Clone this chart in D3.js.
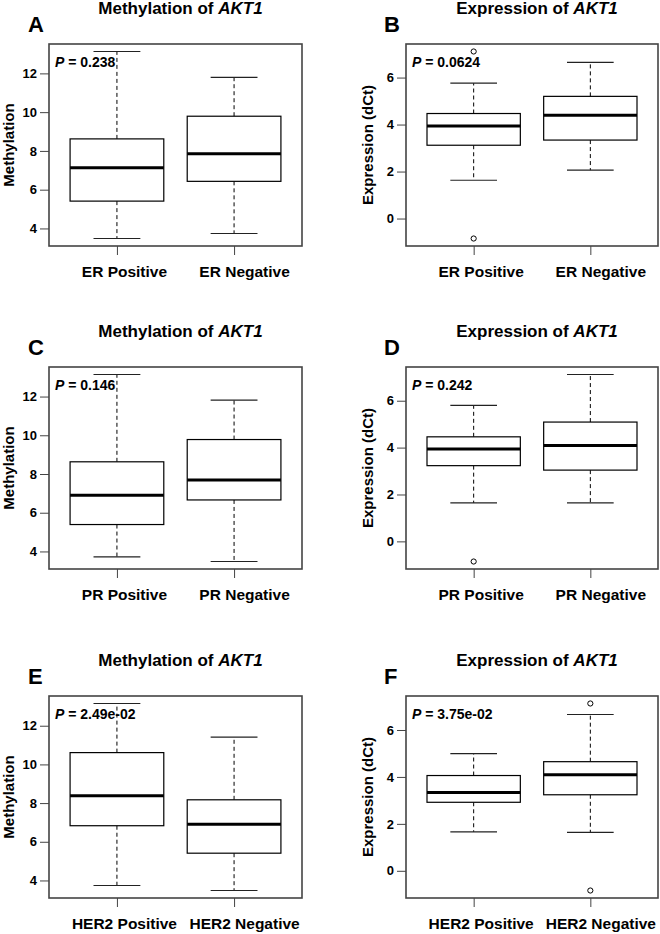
<!DOCTYPE html>
<html><head><meta charset="utf-8">
<script src="https://cdn.jsdelivr.net/npm/d3@7"></script>
<style>body{margin:0;background:#fff}svg{display:block}text{font-family:"Liberation Sans",Arial,sans-serif;font-weight:bold;fill:#000}</style>
</head><body>
<script>
// ---- data ----
const panelLetters = ["A","B","C","D","E","F"];
const titlePrefixes = ["Methylation of ","Expression of ","Methylation of ","Expression of ","Methylation of ","Expression of "];
const titleGene = "AKT1";
const yLabels = ["Methylation","Expression (dCt)","Methylation","Expression (dCt)","Methylation","Expression (dCt)"];
const categoriesER = ["ER Positive","ER Negative"];
const categoriesPR = ["PR Positive","PR Negative"];
const categoriesHER2 = ["HER2 Positive","HER2 Negative"];
const pValues = ["0.238","0.0624","0.146","0.242","2.49e-02","3.75e-02"];
const methylTicks = [4,6,8,10,12];
const exprTicks = [0,2,4,6];
// box stats per group: [lower whisker, Q1, median, Q3, upper whisker]
const statsA = [[3.48,5.41,7.13,8.62,13.13],[3.74,6.43,7.86,9.79,11.79]];
const statsB = [[1.63,3.12,3.94,4.47,5.76],[2.06,3.34,4.40,5.20,6.65]];
const statsC = [[3.72,5.39,6.90,8.63,13.14],[3.48,6.66,7.69,9.78,11.82]];
const statsD = [[1.64,3.23,3.94,4.46,5.80],[1.64,3.04,4.09,5.09,7.12]];
const statsE = [[3.74,6.83,8.38,10.61,13.15],[3.48,5.41,6.90,8.17,11.41]];
const statsF = [[1.66,2.92,3.34,4.06,4.99],[1.64,3.24,4.09,4.65,6.66]];
const outliersA = [[],[]];
const outliersB = [[7.11,-0.85],[]];
const outliersC = [[],[]];
const outliersD = [[-0.86],[]];
const outliersE = [[],[]];
const outliersF = [[],[7.13,-0.84]];

const panels = [
  {stats:statsA, out:outliersA, cats:categoriesER, ticks:methylTicks},
  {stats:statsB, out:outliersB, cats:categoriesER, ticks:exprTicks},
  {stats:statsC, out:outliersC, cats:categoriesPR, ticks:methylTicks},
  {stats:statsD, out:outliersD, cats:categoriesPR, ticks:exprTicks},
  {stats:statsE, out:outliersE, cats:categoriesHER2, ticks:methylTicks},
  {stats:statsF, out:outliersF, cats:categoriesHER2, ticks:exprTicks}
];

// ---- layout ----
const W = 660, H = 934;
const colLeft = [49, 406], colWidth = [253, 252];
const rowTop = [44, 367, 696], boxH = 202;
const yLabOffset = [35, 33];
const catShift = [7, 10];

const svg = d3.select("body").append("svg").attr("width", W).attr("height", H);

panels.forEach((p, i) => {
  const col = i % 2, row = Math.floor(i / 2);
  const L = colLeft[col], T = rowTop[row], w = colWidth[col], h = boxH;
  const g = svg.append("g").attr("transform", `translate(${L},${T})`);

  const vals = p.stats.flat().concat(p.out.flat());
  const lo = d3.min(vals), hi = d3.max(vals), pad = (hi - lo) * 0.04;
  const y = d3.scaleLinear().domain([lo - pad, hi + pad]).range([h, 0]);
  const x = d3.scaleLinear().domain([0.42, 2.58]).range([0, w]);
  const bw = x(1.4) - x(0.6);

  // title
  const t = svg.append("text").attr("x", L + w / 2 + 5).attr("y", T - 30.5)
    .attr("text-anchor", "middle").style("font-size", "17px");
  t.append("tspan").text(titlePrefixes[i]);
  t.append("tspan").style("font-style", "italic").text(titleGene);

  // panel letter
  svg.append("text").attr("x", col === 0 ? 28 : 384).attr("y", T - 12.5)
    .style("font-size", "22px").text(panelLetters[i]);

  // y axis
  const ya = g.append("g").call(d3.axisLeft(y).tickValues(p.ticks).tickSize(9).tickPadding(3).tickFormat(d3.format("d")));
  ya.select(".domain").remove();
  ya.selectAll("line").attr("stroke", "#444");
  ya.selectAll("text").style("font-size", "13px").style("font-family", '"Liberation Sans",Arial,sans-serif').attr("fill", "#000");

  // x axis ticks
  const xa = g.append("g").attr("transform", `translate(0,${h})`)
    .call(d3.axisBottom(x).tickValues([1, 2]).tickSize(9).tickPadding(10.5).tickFormat((d) => p.cats[d - 1]));
  xa.select(".domain").remove();
  xa.selectAll("line").attr("stroke", "#444");
  xa.selectAll("text").style("font-size", "15.5px").style("font-family", '"Liberation Sans",Arial,sans-serif').attr("fill", "#000")
    .attr("dx", (d) => catShift[d - 1]);

  // y label
  svg.append("text").attr("transform", `translate(${L - yLabOffset[col]},${T + h / 2}) rotate(-90)`)
    .attr("text-anchor", "middle").style("font-size", "15px").text(yLabels[i]);

  // boxes
  p.stats.forEach((s, k) => {
    const cx = x(k + 1);
    const bg = g.append("g");
    bg.append("line").attr("x1", cx).attr("x2", cx).attr("y1", y(s[3])).attr("y2", y(s[4]))
      .attr("stroke", "#000").attr("stroke-width", 1).attr("stroke-dasharray", "4,3");
    bg.append("line").attr("x1", cx).attr("x2", cx).attr("y1", y(s[1])).attr("y2", y(s[0]))
      .attr("stroke", "#000").attr("stroke-width", 1).attr("stroke-dasharray", "4,3");
    [s[0], s[4]].forEach((v) => {
      bg.append("line").attr("x1", cx - bw / 4).attr("x2", cx + bw / 4).attr("y1", y(v)).attr("y2", y(v))
        .attr("stroke", "#222").attr("stroke-width", 1.2);
    });
    bg.append("rect").attr("x", cx - bw / 2).attr("width", bw).attr("y", y(s[3])).attr("height", y(s[1]) - y(s[3]))
      .attr("fill", "#fff").attr("stroke", "#000").attr("stroke-width", 1.2);
    bg.append("line").attr("x1", cx - bw / 2).attr("x2", cx + bw / 2).attr("y1", y(s[2])).attr("y2", y(s[2]))
      .attr("stroke", "#000").attr("stroke-width", 3);
    p.out[k].forEach((v) => {
      bg.append("circle").attr("cx", cx).attr("cy", y(v)).attr("r", 2.6)
        .attr("fill", "#fff").attr("stroke", "#000").attr("stroke-width", 1);
    });
  });

  // frame
  g.append("rect").attr("width", w).attr("height", h).attr("fill", "none").attr("stroke", "#444").attr("stroke-width", 1.6);

  // p value
  const pt = g.append("text").attr("x", 6).attr("y", 23).style("font-size", "14px");
  pt.append("tspan").style("font-style", "italic").text("P");
  pt.append("tspan").text(" = " + pValues[i]);
});
</script>
</body></html>
